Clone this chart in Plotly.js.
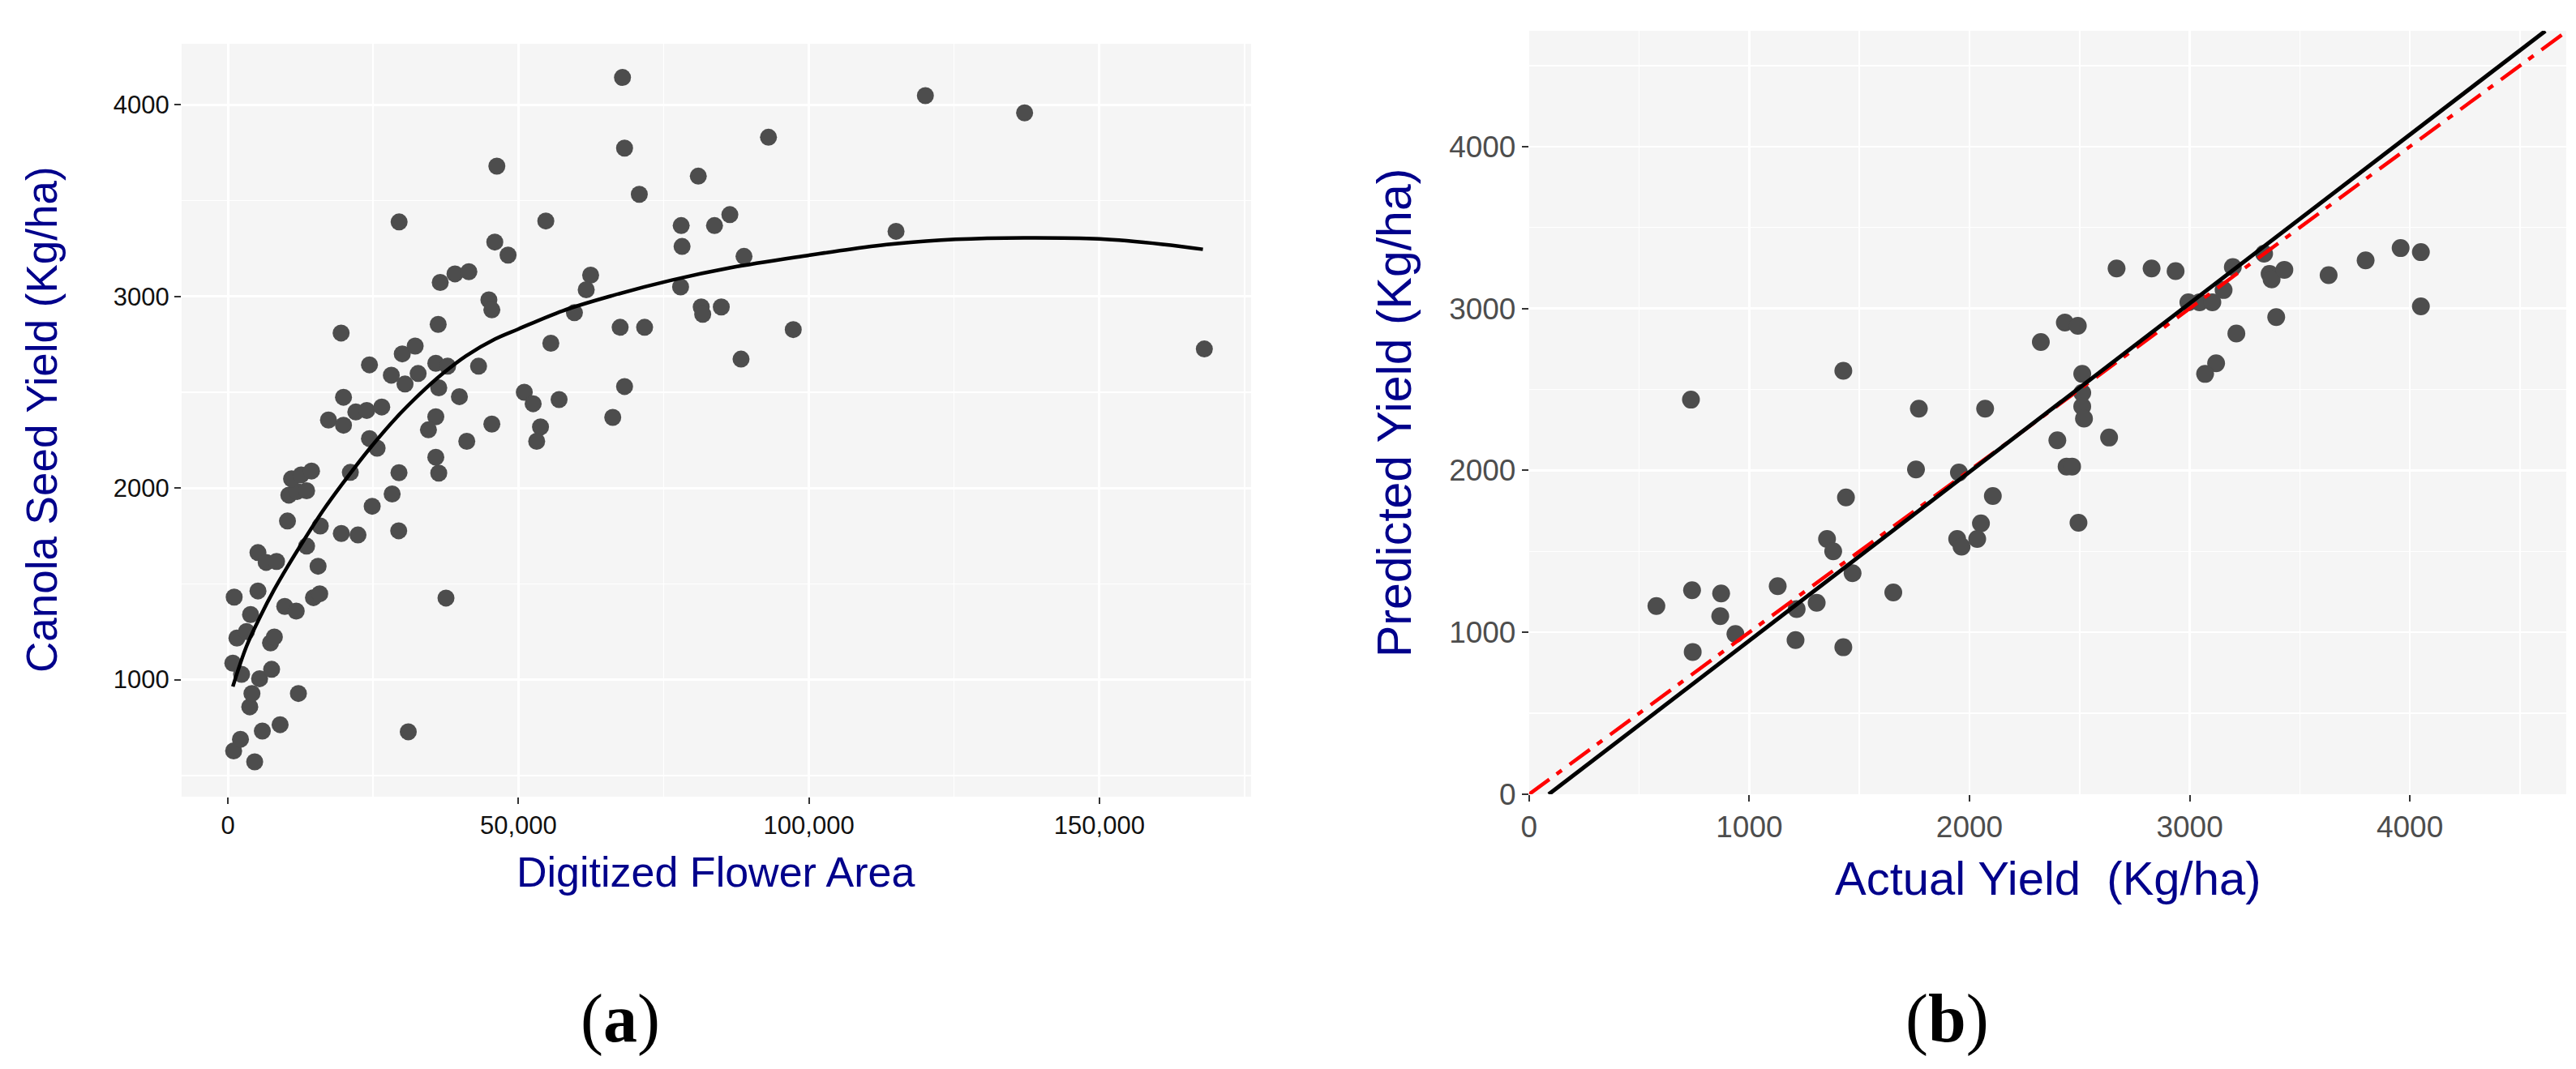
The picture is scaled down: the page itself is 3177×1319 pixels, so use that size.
<!DOCTYPE html>
<html>
<head>
<meta charset="utf-8">
<script src="https://cdn.plot.ly/plotly-3.0.1.min.js"></script>
<style>
  html, body { margin: 0; padding: 0; background: #ffffff; }
  #chart { width: 3177px; height: 1319px; }
</style>
</head>
<body>
<div id="chart"></div>
<script>
// (a) Digitized flower area vs canola seed yield
const flowerArea = [
  4610, 988, 2164, 5927, 8985, 31046, 3763, 4140, 12136, 847,
  2352, 5457, 7526, 1552, 3199, 3904, 7338, 7997, 1082, 5174,
  9784, 11760, 14724, 15805, 37538, 5174, 6586, 8373, 13548, 15523,
  10255, 15900, 19522, 22391, 29400, 24837, 28271, 29447, 10490, 11901,
  13548, 10960, 12607, 14394, 21074, 24367, 25684, 17311, 19898, 19898,
  22015, 23896, 26484, 24367, 28130, 30482, 30012, 19490, 29470,
  67918, 93045, 68274, 46294, 80964, 70812, 54721, 78020, 83755, 86395,
  78172, 45939, 48223, 88831, 36549, 39087, 41472, 62436, 61675, 77918,
  44924, 45432, 59644, 81471, 81725, 84923, 36193, 67512, 71725, 97308,
  55584, 32234, 35787, 37818, 32742, 43147, 88324, 36295, 39848, 51015,
  52538, 57005, 68274, 66243, 45432, 35787, 34518, 41117, 53807, 53147,
  35787, 36295,
  120050, 137128, 115000, 168065
];
const seedYield = [
  571, 628, 689, 732, 765, 728, 858, 928, 928, 1086,
  1028, 1005, 1054, 1217, 1251, 1340, 1192, 1223, 1431, 1463,
  1382, 1358, 1428, 1448, 1426, 1663, 1612, 1617, 1697, 1592,
  1828, 1802, 1763, 1755, 1777, 1905, 1969, 2080, 1963, 1982,
  1986, 2048, 2069, 2089, 2082, 2258, 2208, 2355, 2328, 2474,
  2397, 2405, 2423, 2643, 2589, 2543, 2700, 2809, 3389,
  4143, 3831, 3774, 3680, 3628, 3533, 3394, 3370, 3370, 3427,
  3261, 3284, 3216, 3209, 3073, 3118, 3129, 3111, 3035, 3050,
  2982, 2930, 2915, 2945, 2907, 2945, 2854, 2839, 2839, 2827,
  2756, 2741, 2651, 2636, 2598, 2636, 2673, 2523, 2477, 2500,
  2440, 2462, 2530, 2369, 2334, 2372, 2304, 2244, 2319, 2244,
  2161, 2078,
  4048, 3958, 3340, 2726
];

// fitted curve
const curveArea = [850, 3200, 5550, 7900, 10250, 13080, 16370, 19660, 24370, 29070,
  33000, 37000, 41000, 46000, 50000, 57610, 66240, 76400, 86550, 100000,
  107430, 114850, 125250, 137000, 150000, 160890, 167820];
const curveYield = [964, 1174, 1328, 1466, 1589, 1728, 1882, 2020, 2205, 2370,
  2490, 2598, 2690, 2778, 2830, 2925, 3005, 3085, 3150, 3215,
  3248, 3275, 3298, 3306, 3300, 3272, 3246];

const areaTicks = [0, 50000, 100000, 150000];
const areaTickText = ['0', '50,000', '100,000', '150,000'];

// (b) Actual vs predicted yield
const actualYield = [
  735, 1427, 578, 740, 872, 868, 937, 743, 1129, 1215,
  1306, 1210, 1427, 1654, 1469, 1353, 1381, 1439, 1757, 1952,
  2106, 1770, 2071, 2052, 1944, 1964, 2035,
  2324, 2433, 2492, 2512, 2512, 2512, 2520, 2399, 2441, 2466,
  2634, 2495, 2668, 2827, 2936, 2994, 3045, 3103, 3154, 3196,
  3338, 3363, 3372, 3430, 3631, 3799, 3958, 4050, 4050, 3393,
  3212, 3120, 3070
];
const predictedYield = [
  2437, 2615, 1163, 1260, 1240, 1100, 990, 879, 1285, 1144,
  1183, 952, 908, 1246, 1365, 1577, 1500, 1833, 2006, 1987,
  1842, 2381, 2381, 1673, 1577, 1529, 1577,
  2793, 2913, 2893, 2596, 2479, 2395, 2320, 2186, 2024, 2024,
  2203, 1677, 3247, 3247, 3231, 3038, 3038, 3038, 3114, 3256,
  3339, 3214, 3180, 3239, 3206, 3297, 3373, 3348, 3013, 2947,
  2846, 2662, 2596
];
const fitActual = [89, 4615];
const fitPredicted = [0, 4714];
const oneToOne = [0, 4800];

const tickFontA = { family: 'Liberation Sans, Arial, sans-serif', size: 31, color: '#111111' };
const tickFontB = { family: 'Liberation Sans, Arial, sans-serif', size: 37, color: '#4D4D4D' };
const titleFont = (size) => ({ family: 'Liberation Sans, Arial, sans-serif', size: size, color: '#00008B' });
const grid = { showgrid: true, gridcolor: '#ffffff', gridwidth: 3, zeroline: false, showline: false,
  ticks: 'outside', ticklen: 8, tickwidth: 2, tickcolor: '#333333', fixedrange: true };

const traces = [
  { x: flowerArea, y: seedYield, type: 'scatter', mode: 'markers', xaxis: 'x', yaxis: 'y',
    marker: { size: 21, color: '#4D4D4D' } },
  { x: curveArea, y: curveYield, type: 'scatter', mode: 'lines', xaxis: 'x', yaxis: 'y',
    line: { color: '#000000', width: 4.5, shape: 'spline', smoothing: 1 } },
  { x: actualYield, y: predictedYield, type: 'scatter', mode: 'markers', xaxis: 'x2', yaxis: 'y2',
    marker: { size: 22, color: '#4D4D4D' } },
  { x: oneToOne, y: oneToOne, type: 'scatter', mode: 'lines', xaxis: 'x2', yaxis: 'y2',
    line: { color: '#FF0000', width: 4.5, dash: '31px,11px,8px,12px' } },
  { x: fitActual, y: fitPredicted, type: 'scatter', mode: 'lines', xaxis: 'x2', yaxis: 'y2',
    line: { color: '#000000', width: 5 } }
];

const layout = {
  width: 3177,
  height: 1319,
  margin: { l: 0, r: 0, t: 0, b: 0 },
  paper_bgcolor: '#ffffff',
  plot_bgcolor: '#F5F5F5',
  showlegend: false,
  xaxis: Object.assign({}, grid, {
    domain: [0.0705, 0.4857], range: [-7967, 176125], anchor: 'y',
    tickvals: areaTicks, ticktext: areaTickText, tickfont: tickFontA,
    minor: { dtick: 25000, tick0: 0, showgrid: true, gridcolor: '#ffffff', gridwidth: 1.5 }
  }),
  yaxis: Object.assign({}, grid, {
    domain: [0.2547, 0.9591], range: [389, 4319], anchor: 'x',
    tick0: 0, dtick: 1000, tickfont: tickFontA,
    minor: { dtick: 500, tick0: 0, showgrid: true, gridcolor: '#ffffff', gridwidth: 1.5 }
  }),
  xaxis2: Object.assign({}, grid, {
    domain: [0.5936, 0.9962], range: [0, 4710], anchor: 'y2',
    tick0: 0, dtick: 1000, tickfont: tickFontB, gridwidth: 2.5,
    minor: { dtick: 500, tick0: 0, showgrid: true, gridcolor: '#ffffff', gridwidth: 1.5 }
  }),
  yaxis2: Object.assign({}, grid, {
    domain: [0.2570, 0.9712], range: [0, 4715], anchor: 'x2',
    tick0: 0, dtick: 1000, tickfont: tickFontB, gridwidth: 2.5,
    minor: { dtick: 500, tick0: 0, showgrid: true, gridcolor: '#ffffff', gridwidth: 1.5 }
  }),
  annotations: [
    { text: 'Digitized Flower Area', xref: 'paper', yref: 'paper', x: 0.2779, y: 0.1842,
      xanchor: 'center', yanchor: 'middle', showarrow: false, font: titleFont(52) },
    { text: 'Canola Seed Yield (Kg/ha)', xref: 'paper', yref: 'paper', x: 0.0164, y: 0.6073,
      xanchor: 'center', yanchor: 'middle', textangle: -90, showarrow: false, font: titleFont(53) },
    { text: 'Actual Yield&nbsp;&nbsp;(Kg/ha)', xref: 'paper', yref: 'paper', x: 0.7951, y: 0.1782,
      xanchor: 'center', yanchor: 'middle', showarrow: false, font: titleFont(58) },
    { text: 'Predicted Yield (Kg/ha)', xref: 'paper', yref: 'paper', x: 0.5414, y: 0.6133,
      xanchor: 'center', yanchor: 'middle', textangle: -90, showarrow: false, font: titleFont(59) },
    { text: '(<b>a</b>)', xref: 'paper', yref: 'paper', x: 0.2408, y: 0.047,
      xanchor: 'center', yanchor: 'middle', showarrow: false,
      font: { family: 'Liberation Serif, DejaVu Serif, serif', size: 84, color: '#000000' } },
    { text: '(<b>b</b>)', xref: 'paper', yref: 'paper', x: 0.756, y: 0.047,
      xanchor: 'center', yanchor: 'middle', showarrow: false,
      font: { family: 'Liberation Serif, DejaVu Serif, serif', size: 84, color: '#000000' } }
  ]
};

Plotly.newPlot('chart', traces, layout, { displayModeBar: false, staticPlot: true });
</script>
</body>
</html>
